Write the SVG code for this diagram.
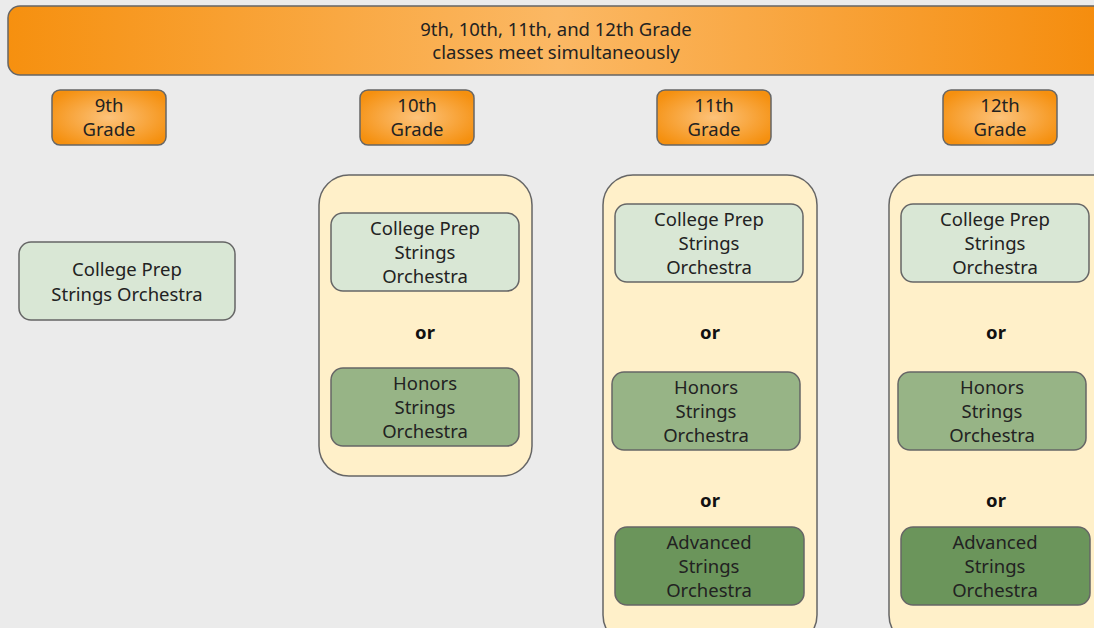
<svg xmlns="http://www.w3.org/2000/svg" width="1094" height="628" viewBox="0 0 1094 628">
<defs>
<linearGradient id="banner" x1="0" y1="0" x2="1" y2="0">
<stop offset="0" stop-color="#f6900f"/>
<stop offset="0.5" stop-color="#fbb864"/>
<stop offset="1" stop-color="#f58c0c"/>
</linearGradient>
<radialGradient id="grade" cx="0.5" cy="0.5" r="0.6">
<stop offset="0" stop-color="#fcc27a"/>
<stop offset="1" stop-color="#f5900f"/>
</radialGradient>
<style>
.t{font-family:"Noto Sans","Open Sans",sans-serif;font-size:18.5px;fill:#222;text-anchor:middle}
.or{font-family:"Noto Sans","Open Sans",sans-serif;font-size:18.5px;font-weight:bold;fill:#111;text-anchor:middle}
.box{stroke:#666;stroke-width:1.5}
.cp{fill:#d9e7d5}
.hon{fill:#97b486}
.adv{fill:#6b955b}
.cont{fill:#fff0c9;stroke:#666;stroke-width:1.5}
.gr{fill:url(#grade);stroke:#666;stroke-width:1.5}
</style>
</defs>
<rect width="1094" height="628" fill="#ebebeb"/>
<g id="banner-node">
<rect x="8" y="6" width="1100" height="69" rx="12" fill="url(#banner)" stroke="#666" stroke-width="1.5"/>
<text class="t" x="556" y="36">9th, 10th, 11th, and 12th Grade</text>
<text class="t" x="556" y="59">classes meet simultaneously</text>
</g>
<g id="grade9"><rect class="gr" x="52" y="90" width="114" height="55" rx="8"/><text class="t" x="109" y="112">9th</text><text class="t" x="109" y="136">Grade</text></g>
<g id="grade10"><rect class="gr" x="360" y="90" width="114" height="55" rx="8"/><text class="t" x="417" y="112">10th</text><text class="t" x="417" y="136">Grade</text></g>
<g id="grade11"><rect class="gr" x="657" y="90" width="114" height="55" rx="8"/><text class="t" x="714" y="112">11th</text><text class="t" x="714" y="136">Grade</text></g>
<g id="grade12"><rect class="gr" x="943" y="90" width="114" height="55" rx="8"/><text class="t" x="1000" y="112">12th</text><text class="t" x="1000" y="136">Grade</text></g>

<g id="cp9"><rect class="box cp" x="19" y="242" width="216" height="78" rx="12"/><text class="t" x="127" y="276">College Prep</text><text class="t" x="127" y="301">Strings Orchestra</text></g>

<g id="col10">
<rect class="cont" x="319" y="175" width="213" height="301" rx="30"/>
<g id="cp10"><rect class="box cp" x="331" y="213" width="188" height="78" rx="12"/><text class="t" x="425" y="235">College Prep</text><text class="t" x="425" y="259">Strings</text><text class="t" x="425" y="283">Orchestra</text></g>
<text class="or" x="425" y="339">or</text>
<g id="hon10"><rect class="box hon" x="331" y="368" width="188" height="78" rx="12"/><text class="t" x="425" y="390">Honors</text><text class="t" x="425" y="414">Strings</text><text class="t" x="425" y="438">Orchestra</text></g>
</g>

<g id="col11">
<rect class="cont" x="603" y="175" width="214" height="470" rx="30"/>
<g id="cp11"><rect class="box cp" x="615" y="204" width="188" height="78" rx="12"/><text class="t" x="709" y="226">College Prep</text><text class="t" x="709" y="250">Strings</text><text class="t" x="709" y="274">Orchestra</text></g>
<text class="or" x="710" y="339">or</text>
<g id="hon11"><rect class="box hon" x="612" y="372" width="188" height="78" rx="12"/><text class="t" x="706" y="394">Honors</text><text class="t" x="706" y="418">Strings</text><text class="t" x="706" y="442">Orchestra</text></g>
<text class="or" x="710" y="507">or</text>
<g id="adv11"><rect class="box adv" x="615" y="527" width="189" height="78" rx="12"/><text class="t" x="709" y="549">Advanced</text><text class="t" x="709" y="573">Strings</text><text class="t" x="709" y="597">Orchestra</text></g>
</g>

<g id="col12">
<rect class="cont" x="889" y="175" width="240" height="470" rx="30"/>
<g id="cp12"><rect class="box cp" x="901" y="204" width="188" height="78" rx="12"/><text class="t" x="995" y="226">College Prep</text><text class="t" x="995" y="250">Strings</text><text class="t" x="995" y="274">Orchestra</text></g>
<text class="or" x="996" y="339">or</text>
<g id="hon12"><rect class="box hon" x="898" y="372" width="188" height="78" rx="12"/><text class="t" x="992" y="394">Honors</text><text class="t" x="992" y="418">Strings</text><text class="t" x="992" y="442">Orchestra</text></g>
<text class="or" x="996" y="507">or</text>
<g id="adv12"><rect class="box adv" x="901" y="527" width="189" height="78" rx="12"/><text class="t" x="995" y="549">Advanced</text><text class="t" x="995" y="573">Strings</text><text class="t" x="995" y="597">Orchestra</text></g>
</g>
<g id="connectors"/>
</svg>
